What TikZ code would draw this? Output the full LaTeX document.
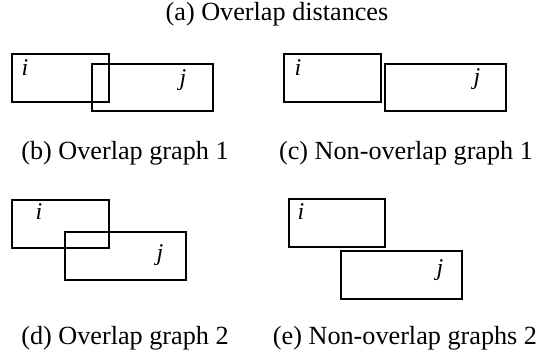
\documentclass[tikz,border=0pt]{standalone}
\usepackage{fontspec}
\setmainfont{Liberation Serif}
\begin{document}
\begin{tikzpicture}[x=1pt,y=-1pt,
  box/.style={draw=black,line width=1.6pt,inner sep=0pt,minimum width=#1},
  box/.default=97pt,
  lbl/.style={anchor=base,inner sep=0pt,font=\fontsize{24}{28}\selectfont\itshape},
  captxt/.style={anchor=base,inner sep=0pt,font=\fontsize{26.2}{30}\selectfont}]
\useasboundingbox (0,0) rectangle (539,358);
% captions
\node[captxt] (ca) at (277,21) {(a) Overlap distances};
\node[captxt] (cb) at (125,160) {(b) Overlap graph 1};
\node[captxt] (cc) at (406,160) {(c) Non-overlap graph 1};
\node[captxt] (cd) at (125,345) {(d) Overlap graph 2};
\node[captxt] (ce) at (405,345) {(e) Non-overlap graphs 2};
% panel b
\node[box=97pt,minimum height=48pt] (bi) at (60.5,78) {};
\node[box=121pt,minimum height=47pt] (bj) at (152.5,87.5) {};
\node[lbl] (bil) at (25,76) {i};
\node[lbl] (bjl) at (183,85.5) {j};
% panel c
\node[box=97pt,minimum height=48pt] (ci) at (332.5,78) {};
\node[box=121pt,minimum height=47pt] (cj) at (445.5,87.5) {};
\node[lbl] (cil) at (298,76) {i};
\node[lbl] (cjl) at (477,85) {j};
% panel d
\node[box=97pt,minimum height=48pt] (di) at (60.5,224) {};
\node[box=121pt,minimum height=48pt] (dj) at (125.5,256) {};
\node[lbl] (dil) at (39,220) {i};
\node[lbl] (djl) at (160,261) {j};
% panel e
\node[box=96pt,minimum height=48pt] (ei) at (337,223) {};
\node[box=121pt,minimum height=48pt] (ej) at (401.5,275) {};
\node[lbl] (eil) at (301,220) {i};
\node[lbl] (ejl) at (440,276) {j};
\end{tikzpicture}
\end{document}
